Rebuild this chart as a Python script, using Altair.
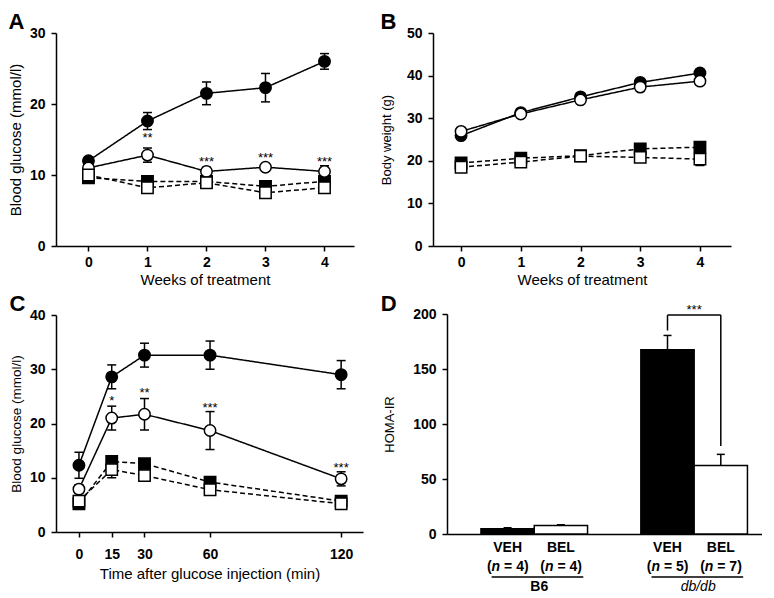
import altair as alt
import pandas as pd

FONT = "Liberation Sans"

# ---------------- data ----------------
series_names = ["db/db VEH", "B6 VEH", "db/db BEL", "B6 BEL"]
series_shape = ["circle", "square", "circle", "square"]
series_fill = ["black", "black", "white", "white"]
series_dash = ["solid", "dashed", "solid", "dashed"]

weeks = [0, 1, 2, 3, 4]
A_vals = {
    "db/db VEH": [12.0, 17.6, 21.5, 22.3, 26.0],
    "B6 VEH": [9.6, 9.1, 9.1, 8.4, 9.1],
    "db/db BEL": [11.0, 12.8, 10.5, 11.1, 10.5],
    "B6 BEL": [10.0, 8.2, 8.9, 7.5, 8.2],
}
A_err = {
    "db/db VEH": [0.5, 1.2, 1.6, 2.0, 1.1],
    "B6 VEH": [0.3, 0.3, 0.3, 0.3, 0.3],
    "db/db BEL": [0.5, 1.0, 0.6, 0.5, 0.8],
    "B6 BEL": [0.4, 0.4, 0.3, 0.4, 0.5],
}
A_star_x = [1, 2, 3, 4]
A_star_y = [15.6, 12.2, 12.8, 12.3]
A_star_t = ["**", "***", "***", "***"]

B_vals = {
    "db/db VEH": [25.9, 31.3, 35.0, 38.4, 40.6],
    "B6 VEH": [19.5, 20.6, 21.2, 22.8, 23.2],
    "db/db BEL": [26.9, 31.0, 34.3, 37.3, 38.7],
    "B6 BEL": [18.5, 19.7, 21.1, 20.8, 20.4],
}
B_err = {
    "db/db VEH": [0.5, 0.5, 0.6, 0.8, 0.9],
    "B6 VEH": [0.5, 0.5, 0.5, 0.5, 0.6],
    "db/db BEL": [0.5, 0.5, 0.6, 0.7, 0.8],
    "B6 BEL": [0.5, 0.5, 0.5, 0.6, 1.5],
}

times = [0, 15, 30, 60, 120]
C_vals = {
    "db/db VEH": [12.3, 28.6, 32.6, 32.6, 29.0],
    "B6 VEH": [5.2, 13.0, 12.6, 9.2, 5.7],
    "db/db BEL": [7.9, 21.0, 21.7, 18.7, 9.8],
    "B6 BEL": [5.7, 11.5, 10.4, 7.8, 5.2],
}
C_err = {
    "db/db VEH": [2.4, 2.2, 2.2, 2.6, 2.6],
    "B6 VEH": [0.5, 1.0, 0.6, 0.8, 0.4],
    "db/db BEL": [0.8, 2.2, 2.9, 3.5, 1.3],
    "B6 BEL": [0.5, 1.5, 0.8, 0.5, 0.4],
}
C_star_x = [15, 30, 60, 120]
C_star_y = [24.7, 26.1, 23.5, 12.4]
C_star_t = ["*", "**", "***", "***"]

D_cats = ["B6_VEH", "B6_BEL", "gap", "db_VEH", "db_BEL"]
D_bar_cats = ["B6_VEH", "B6_BEL", "db_VEH", "db_BEL"]
D_vals = [4.8, 7.8, 167.6, 62.2]
D_err = [0.9, 0.6, 12.9, 10.2]
D_fill = ["black", "white", "black", "white"]
D_trt = ["VEH", "BEL", "VEH", "BEL"]
D_n = ["4", "4", "5", "7"]
D_groups = ["B6", "db/db"]
D_group_first = ["B6_VEH", "db_VEH"]
D_group_second = ["B6_BEL", "db_BEL"]
D_bracket_y = 199
D_bracket_left_bottom = 185
D_bracket_right_bottom = 80


def make_df(xs, vals, errs):
    rows = []
    for name, shp, fl, ds in zip(series_names, series_shape, series_fill, series_dash):
        for x, v, e in zip(xs, vals[name], errs[name]):
            rows.append(dict(x=x, y=v, lo=v - e, hi=v + e, series=name,
                             shape=shp, fill=fl, dash=ds))
    return pd.DataFrame(rows)


def letter_title(t, dx=0, offset=-8):
    return alt.Title(t, anchor="start", frame="bounds", fontSize=22,
                     fontWeight="bold", font=FONT, color="black", offset=offset, dx=dx)


def line_panel(df, stars, xdom, xvals, xtitle, ydom, yvals, ytitle,
               letter, w, h, ytsize=14, xtsize=15, ytpad=6, xlpad=4, xtpad=3,
               ldx=0):
    xs = alt.Scale(domain=xdom, nice=False, zero=False)
    ys = alt.Scale(domain=ydom, nice=False, zero=False)
    xax = alt.Axis(values=xvals, format="d", title=xtitle, titleFontSize=xtsize,
                   titlePadding=xtpad, labelPadding=xlpad)
    yax = alt.Axis(values=yvals, format="d", title=ytitle, titleFontSize=ytsize,
                   titlePadding=ytpad, labelPadding=6)
    X = alt.X("x:Q", scale=xs, axis=xax)
    base = alt.Chart(df)
    lines = base.mark_line(color="black", strokeWidth=1.5).encode(
        x=X, y=alt.Y("y:Q", scale=ys, axis=yax), detail="series:N",
        strokeDash=alt.StrokeDash("dash:N", scale=alt.Scale(
            domain=["solid", "dashed"], range=[[1, 0], [5, 3]]), legend=None))
    errs = base.mark_rule(color="black", strokeWidth=1.5).encode(
        x=X, y=alt.Y("lo:Q", scale=ys, axis=yax), y2="hi:Q")
    cap_hi = base.mark_tick(orient="horizontal", size=9, thickness=1.5,
                            color="black", opacity=1).encode(
        x=X, y=alt.Y("hi:Q", scale=ys, axis=yax))
    cap_lo = base.mark_tick(orient="horizontal", size=9, thickness=1.5,
                            color="black", opacity=1).encode(
        x=X, y=alt.Y("lo:Q", scale=ys, axis=yax))
    pts = base.mark_point(filled=True, size=130, stroke="black",
                          strokeWidth=1.5, opacity=1).encode(
        x=X, y=alt.Y("y:Q", scale=ys, axis=yax),
        shape=alt.Shape("shape:N", scale=alt.Scale(domain=["circle", "square"],
                                                   range=["circle", "square"]),
                        legend=None),
        fill=alt.Fill("fill:N", scale=None))
    st = alt.Chart(stars).mark_text(font=FONT, fontSize=13, color="black",
                                    baseline="middle", dy=3).encode(
        x=X, y=alt.Y("y:Q", scale=ys, axis=yax), text="t:N")
    return alt.layer(lines, errs, cap_hi, cap_lo, pts, st).properties(
        width=w, height=h, title=letter_title(letter, ldx))


dfA = make_df(weeks, A_vals, A_err)
sA = pd.DataFrame(dict(x=A_star_x, y=A_star_y, t=A_star_t))
panelA = line_panel(dfA, sA, [-0.55, 4.5], weeks, "Weeks of treatment",
                    [0, 30], [0, 10, 20, 30], "Blood glucose (mmol/l)",
                    "A", 298, 213, ytsize=15)

dfB = make_df(weeks, B_vals, B_err)
sB = pd.DataFrame(dict(x=[], y=[], t=[]))
panelB = line_panel(dfB, sB, [-0.47, 4.52], weeks, "Weeks of treatment",
                    [0, 50], [0, 10, 20, 30, 40, 50], "Body weight (g)",
                    "B", 298, 213, ytsize=13, ytpad=13, ldx=0)

dfC = make_df(times, C_vals, C_err)
sC = pd.DataFrame(dict(x=C_star_x, y=C_star_y, t=C_star_t))
panelC = line_panel(dfC, sC, [-10.5, 130], times,
                    "Time after glucose injection (min)",
                    [0, 40], [0, 10, 20, 30, 40], "Blood glucose (mmol/l)",
                    "C", 307, 217, ytsize=13.5, xlpad=10, xtpad=5)

# ---------------- panel D ----------------
dfD = pd.DataFrame(dict(cat=D_bar_cats, v=D_vals, hi=[a + b for a, b in zip(D_vals, D_err)],
                        fill=D_fill, trt=D_trt, n=D_n))
xsD = alt.Scale(domain=D_cats, paddingInner=0, paddingOuter=0.455, align=0.7)
xaxD = alt.Axis(labels=False, ticks=False, title=None)
ysD = alt.Scale(domain=[0, 200], nice=False)
yaxD = alt.Axis(values=[0, 50, 100, 150, 200], title="HOMA-IR", titleFontSize=13,
                titlePadding=16, labelPadding=6)
XD = alt.X("cat:N", scale=xsD, axis=xaxD)
hD = 220
baseD = alt.Chart(dfD)
bars = baseD.mark_bar(stroke="black", strokeWidth=1.5).encode(
    x=XD, y=alt.Y("v:Q", scale=ysD, axis=yaxD), fill=alt.Fill("fill:N", scale=None))
errD = baseD.mark_rule(color="black", strokeWidth=1.5).encode(
    x=XD, y=alt.Y("v:Q", scale=ysD, axis=yaxD), y2="hi:Q")
capD = baseD.mark_tick(orient="horizontal", size=8, thickness=1.5, color="black",
                       opacity=1).encode(x=XD, y=alt.Y("hi:Q", scale=ysD, axis=yaxD))
trt_lbl = baseD.mark_text(font=FONT, fontSize=14, fontWeight="bold", color="black",
                          baseline="middle").encode(
    x=XD, y=alt.value(hD + 14), text="trt:N")
paren_l = baseD.mark_text(font=FONT, fontSize=14, fontWeight="bold", color="black",
                          baseline="middle", align="right", dx=-16).encode(
    x=XD, y=alt.value(hD + 33), text=alt.value("("))
n_it = baseD.mark_text(font=FONT, fontSize=14, fontWeight="bold", fontStyle="italic",
                       color="black", baseline="middle", align="left", dx=-16).encode(
    x=XD, y=alt.value(hD + 33), text=alt.value("n"))
rest = baseD.transform_calculate(lab="'= ' + datum.n + ')'").mark_text(
    font=FONT, fontSize=14, fontWeight="bold", color="black", baseline="middle",
    align="left", dx=-3.5).encode(x=XD, y=alt.value(hD + 33), text="lab:N")

dfG = pd.DataFrame(dict(first=D_group_first, second=D_group_second, g=D_groups,
                        style=["normal", "italic"]))
baseG = alt.Chart(dfG)
underline = baseG.mark_rule(color="black", strokeWidth=1.5).encode(
    x=alt.X("first:N", scale=xsD, axis=xaxD, bandPosition=0.2),
    x2=alt.X2("second:N", bandPosition=0.92),
    y=alt.value(hD + 43))
grp_b6 = baseG.transform_filter("datum.style == 'normal'").mark_text(
    font=FONT, fontSize=14, fontWeight="bold", color="black", baseline="middle", dx=5).encode(
    x=alt.X("first:N", scale=xsD, axis=xaxD, bandPosition=1), y=alt.value(hD + 53), text="g:N")
grp_db = baseG.transform_filter("datum.style == 'italic'").mark_text(
    font=FONT, fontSize=14, fontStyle="italic", color="black", baseline="middle", dx=4).encode(
    x=alt.X("first:N", scale=xsD, axis=xaxD, bandPosition=1), y=alt.value(hD + 53), text="g:N")

dfBr = pd.DataFrame(dict(a=["db_VEH"], b=["db_BEL"], y=[D_bracket_y],
                         yl=[D_bracket_left_bottom], yr=[D_bracket_right_bottom]))
baseBr = alt.Chart(dfBr)
br_top = baseBr.mark_rule(color="black", strokeWidth=1.5).encode(
    x=alt.X("a:N", scale=xsD, axis=xaxD), x2="b:N", y=alt.Y("y:Q", scale=ysD, axis=yaxD))
br_l = baseBr.mark_rule(color="black", strokeWidth=1.5).encode(
    x=alt.X("a:N", scale=xsD, axis=xaxD), y=alt.Y("yl:Q", scale=ysD, axis=yaxD), y2="y:Q")
br_r = baseBr.mark_rule(color="black", strokeWidth=1.5).encode(
    x=alt.X("b:N", scale=xsD, axis=xaxD), y=alt.Y("yr:Q", scale=ysD, axis=yaxD), y2="y:Q")
br_t = baseBr.mark_text(font=FONT, fontSize=13, color="black", baseline="middle",
                        dy=-5).encode(
    x=alt.X("a:N", scale=xsD, axis=xaxD, bandPosition=1),
    y=alt.Y("y:Q", scale=ysD, axis=yaxD), text=alt.value("***"))

panelD = alt.layer(bars, errD, capD, br_top, br_l, br_r, br_t, trt_lbl, paren_l, n_it,
                   rest, underline, grp_b6, grp_db).properties(
    width=315, height=hD, title=letter_title("D", -3, offset=-12))

chart = alt.ConcatChart(
    concat=[panelA, panelB, panelC, panelD], columns=2, align="none",
    spacing={"row": 6, "column": 17}
).properties(padding={"top": 3, "left": 0, "right": 0, "bottom": 0}).configure_view(
    stroke=None).configure_axis(
    domainColor="black", domainWidth=1.5, tickColor="black", tickWidth=1.5, tickSize=5,
    labelColor="black", labelFont=FONT, labelFontSize=14, labelFontWeight="bold",
    titleColor="black", titleFont=FONT, titleFontWeight="normal", grid=False
)

chart.save("out.html", embed_options={"renderer": "svg", "actions": False})
